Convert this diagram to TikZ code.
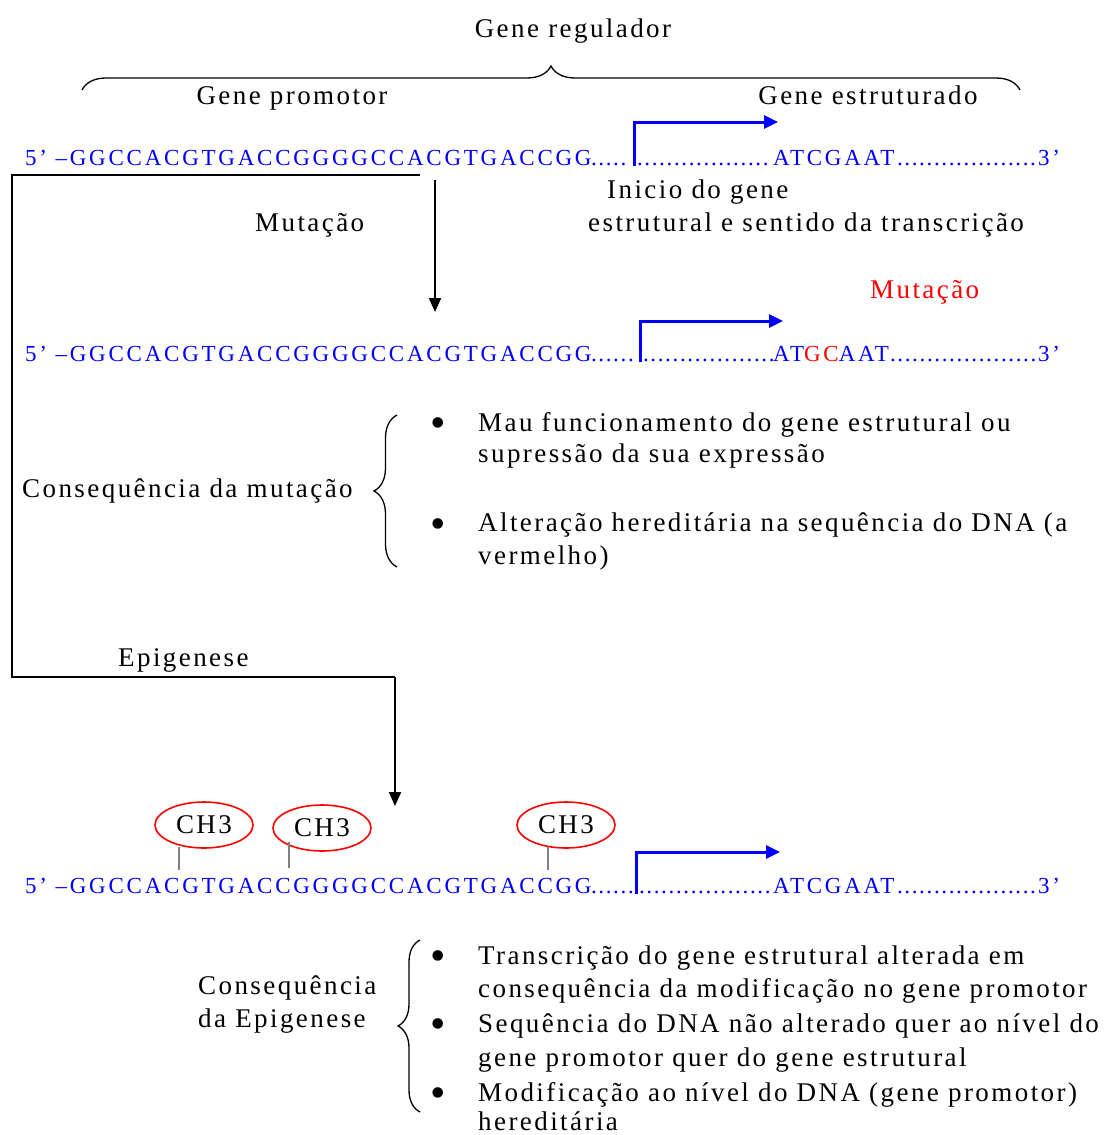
\documentclass[tikz,border=0pt]{standalone}
\usepackage{fontspec}
\setmainfont{Liberation Serif}[LetterSpace=9]
\newfontfamily\dnafont{Liberation Serif}[LetterSpace=12]
\usetikzlibrary{arrows.meta,shapes.geometric,decorations.pathreplacing}
\definecolor{dnablue}{RGB}{0,0,255}
\definecolor{mutred}{RGB}{255,0,0}
% a run of full stops filling a given width
\newcommand\dotrun[1]{\hbox to #1{\leaders\hbox to 7.4pt{\hss.\hss}\hfill}}
\begin{document}
\begin{tikzpicture}[x=1pt,y=-1pt,
  lbl/.style={inner sep=0pt,anchor=base west,font=\fontsize{27}{33}\selectfont},
  dna/.style={inner sep=0pt,anchor=base west,text=dnablue,font=\dnafont\fontsize{23}{28}\selectfont},
  tss/.style={draw=dnablue,line width=3pt,-{Triangle[length=14pt,width=13pt]}},
  flow/.style={draw=black,line width=2pt},
  flowarrow/.style={flow,-{Triangle[length=14pt,width=12pt]}},
  curly/.style={decorate,decoration={brace,amplitude=#1},draw=black,line width=1.3pt},
  methyl/.style={ellipse,draw=mutred,line width=1.6pt,minimum width=98pt,minimum height=46pt,inner sep=0pt,font=\fontsize{27}{30}\selectfont},
  stem/.style={draw=gray,line width=2pt},
  dot/.style={inner sep=0pt,font=\fontsize{44}{44}\selectfont}]
\useasboundingbox[fill=white] (0,0) rectangle (1111,1135);

% ---- gene regulator header
\node[lbl,anchor=base] (reg) at (573,37) {Gene regulador};
\draw[curly=24pt] (82,90) -- (1020,90);
\node[lbl,anchor=base] (prom) at (292,104) {Gene promotor};
\node[lbl,anchor=base] (estr) at (868,104) {Gene estruturado};

% ---- original sequence
\node[dna] (s1) at (25,165) {5’ –GGCCACGTGACCGGGGCCACGTGACCGG};
\node[dna] (d1a) at (590,165) {\dotrun{44pt}};
\node[dna] (d1b) at (636,165) {\dotrun{138pt}};
\node[dna] (g1) at (773,165) {ATCGAAT};
\node[dna] (d1c) at (896,165) {\dotrun{142pt}};
\node[dna] (e1) at (1038,165) {3’};
\coordinate (t1) at (634,166);
\coordinate (t1h) at (778,122);
\draw[tss] (t1) |- (t1h);

\node[lbl] (ini1) at (607,198) {Inicio do gene};
\node[lbl] (ini2) at (588,231) {estrutural e sentido da transcrição};

% ---- mutation branch
\coordinate (split) at (420,175);
\coordinate (mtop) at (435,180);
\coordinate (mtip) at (435,312);
\draw[flowarrow] (mtop) -- (mtip);
\node[lbl] (mut) at (255,231) {Mutação};
\node[lbl,text=mutred] (mutr) at (870,298) {Mutação};

% ---- mutated sequence
\node[dna] (s2) at (25,361) {5’ –GGCCACGTGACCGGGGCCACGTGACCGG};
\node[dna] (d2a) at (590,361) {\dotrun{50pt}};
\node[dna] (d2b) at (642,361) {\dotrun{135pt}};
\node[dna] (g2) at (773,361) {AT\textcolor{mutred}{GC}AAT};
\node[dna] (d2c) at (889,361) {\dotrun{149pt}};
\node[dna] (e2) at (1038,361) {3’};
\coordinate (t2) at (640,362);
\coordinate (t2h) at (783,321);
\draw[tss] (t2) |- (t2h);

% ---- consequences of the mutation
\node[lbl] (cm) at (22,497) {Consequência da mutação};
\draw[curly=23pt] (397,567) -- (397,415);
\node[dot] (b1) at (438,428) {•};
\node[dot] (b2) at (438,529) {•};
\node[lbl] (m1) at (478,431) {Mau funcionamento do gene estrutural ou};
\node[lbl] (m2) at (478,462) {supressão da sua expressão};
\node[lbl] (m3) at (478,531) {Alteração hereditária na sequência do DNA (a};
\node[lbl] (m4) at (478,564) {vermelho)};

% ---- epigenesis branch
\coordinate (c1) at (12,175);
\coordinate (c2) at (12,677);
\coordinate (c3) at (395,677);
\coordinate (etip) at (395,806);
\draw[flow] (split) -- (c1) -- (c2) -- (c3);
\draw[flowarrow] (c3) -- (etip);
\node[lbl] (epi) at (118,666) {Epigenese};

% ---- methylated sequence
\node[methyl] (ch1) at (204,825) {CH3};
\node[methyl] (ch2) at (322,828) {CH3};
\node[methyl] (ch3) at (566,825) {CH3};
\draw[stem] (179,847) -- (179,870);
\draw[stem] (289,842) -- (289,868);
\draw[stem] (548,847) -- (548,870);

\node[dna] (s3) at (25,893) {5’ –GGCCACGTGACCGGGGCCACGTGACCGG};
\node[dna] (d3a) at (590,893) {\dotrun{46pt}};
\node[dna] (d3b) at (638,893) {\dotrun{136pt}};
\node[dna] (g3) at (773,893) {ATCGAAT};
\node[dna] (d3c) at (896,893) {\dotrun{142pt}};
\node[dna] (e3) at (1038,893) {3’};
\coordinate (t3) at (636,894);
\coordinate (t3h) at (780,852);
\draw[tss] (t3) |- (t3h);

% ---- consequences of epigenesis
\node[lbl] (ce1) at (198,994) {Consequência};
\node[lbl] (ce2) at (198,1027) {da Epigenese};
\draw[curly=22pt] (420,1112) -- (420,940);
\node[dot] (b3) at (438,961) {•};
\node[dot] (b4) at (438,1029) {•};
\node[dot] (b5) at (438,1098) {•};
\node[lbl] (p1) at (478,964) {Transcrição do gene estrutural alterada em};
\node[lbl] (p2) at (478,997) {consequência da modificação no gene promotor};
\node[lbl] (p3) at (478,1032) {Sequência do DNA não alterado quer ao nível do};
\node[lbl] (p4) at (478,1066) {gene promotor quer do gene estrutural};
\node[lbl] (p5) at (478,1101) {Modificação ao nível do DNA (gene promotor)};
\node[lbl] (p6) at (478,1130) {hereditária};
\end{tikzpicture}
\end{document}
